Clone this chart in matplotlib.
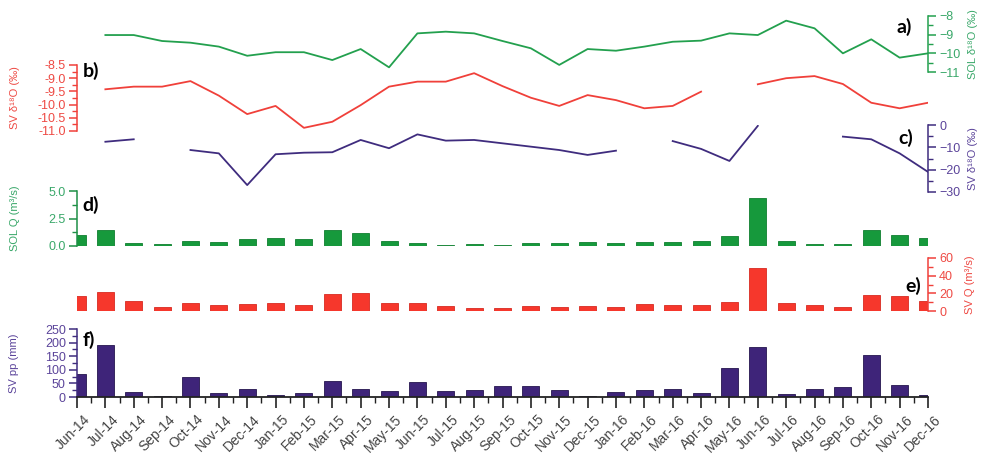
import numpy as np
import matplotlib
matplotlib.use("Agg")
import matplotlib.pyplot as plt
from matplotlib.ticker import MultipleLocator, FormatStrFormatter
from matplotlib.transforms import ScaledTranslation

plt.rcParams['font.family'] = ['Liberation Sans', 'DejaVu Sans']

nan = np.nan

months = ["Jun-14", "Jul-14", "Aug-14", "Sep-14", "Oct-14", "Nov-14", "Dec-14",
          "Jan-15", "Feb-15", "Mar-15", "Apr-15", "May-15", "Jun-15", "Jul-15",
          "Aug-15", "Sep-15", "Oct-15", "Nov-15", "Dec-15", "Jan-16", "Feb-16",
          "Mar-16", "Apr-16", "May-16", "Jun-16", "Jul-16", "Aug-16", "Sep-16",
          "Oct-16", "Nov-16", "Dec-16"]

# a) SOL d18O (permil)
sol_d18o = [nan, -9.02, -9.02, -9.34, -9.43, -9.64, -10.13, -9.94, -9.94, -10.36,
            -9.77, -10.75, -8.93, -8.84, -8.93, -9.34, -9.73, -10.62, -9.77, -9.86,
            -9.64, -9.38, -9.32, -8.93, -9.02, -8.25, -8.66, -10.0, -9.25, -10.23,
            -10.0]

# b) SV d18O (permil)
sv_d18o = [nan, -9.42, -9.32, -9.32, -9.11, -9.66, -10.36, -10.05, -10.88, -10.65,
           -10.02, -9.32, -9.13, -9.13, -8.81, -9.30, -9.74, -10.05, -9.64, -9.83,
           -10.14, -10.05, -9.51, nan, -9.23, -9.0, -8.92, -9.22, -9.93, -10.14,
           -9.93]

# c) SV d18O precipitation (permil)
sv_pp_d18o = [nan, -7.5, -6.4, nan, -11.2, -12.7, -26.9, -13.1, -12.4, -12.2,
              -6.7, -10.4, -4.2, -7.0, -6.7, -8.2, -9.7, -11.2, -13.4, -11.5,
              nan, -7.2, -10.7, -16.1, -0.4, nan, nan, -5.2, -6.4, -12.7, -21.0]

# d) SOL discharge (m3/s)
sol_q = [1.0, 1.5, 0.3, 0.18, 0.48, 0.39, 0.66, 0.75, 0.66, 1.47, 1.2, 0.42, 0.3,
         0.12, 0.15, 0.12, 0.3, 0.3, 0.39, 0.3, 0.39, 0.39, 0.42, 0.9, 4.4, 0.48,
         0.18, 0.18, 1.5, 1.0, 0.7]

# e) SV discharge (m3/s)
sv_q = [17, 22, 11.3, 5, 8.7, 6.8, 7.5, 9.4, 6.8, 19, 20, 9.4, 9.4, 5.7, 3.8, 3,
        5.3, 5, 5.3, 5, 7.5, 6.4, 6.8, 10.4, 48.6, 9.4, 6.4, 5, 18.5, 16.6, 11]

# f) SV precipitation (mm)
sv_pp = [86, 192, 18, 5, 72, 15, 29, 8, 15, 57, 29, 21, 54, 21, 27, 39, 39, 27, 5,
         17, 27, 31, 15, 105, 182, 12, 29, 37, 154, 45, 7]

x = np.arange(len(months))

GREEN_L = '#23a04e'
GREEN_B = '#16993c'
GREEN_T = '#3aa86a'
RED_L = '#f0403a'
RED_B = '#f6372c'
RED_T = '#ee4a44'
PURP_L = '#3f2c7e'
PURP_B = '#3e2479'
PURP_T = '#5b449a'

W, H = 984, 457
L, R = 77, 928

fig = plt.figure(figsize=(W / 100, H / 100), dpi=100)
fig.patch.set_facecolor('white')


def panel(top, bottom):
    ax = fig.add_axes([L / W, (H - bottom) / H, (R - L) / W, (bottom - top) / H])
    ax.patch.set_visible(False)
    ax.set_xlim(0, len(months) - 1)
    for s in ax.spines.values():
        s.set_visible(False)
    ax.set_xticks([])
    return ax


def style_y(ax, side, color, tcolor, major, minor, label, label_px, fmt=None):
    ax.spines[side].set_visible(True)
    ax.spines[side].set_color(color)
    ax.spines[side].set_linewidth(1.1)
    if side == 'right':
        ax.yaxis.tick_right()
        ax.yaxis.set_label_position('right')
    else:
        ax.yaxis.tick_left()
    ax.yaxis.set_major_locator(MultipleLocator(major))
    ax.yaxis.set_minor_locator(MultipleLocator(minor))
    ax.tick_params(axis='y', which='major', direction='out', length=6, width=1.1,
                   color=color, labelcolor=tcolor, labelsize=9, pad=2)
    ax.tick_params(axis='y', which='minor', direction='out', length=3.5, width=1.0,
                   color=color)
    if fmt:
        ax.yaxis.set_major_formatter(fmt)
    ax.set_ylabel(label, color=tcolor, fontsize=8)
    ax.yaxis.set_label_coords((label_px - L) / (R - L), 0.5)


# a) SOL d18O
ax_a = panel(16, 72)
ax_a.plot(x, sol_d18o, color=GREEN_L, lw=1.3)
ax_a.set_ylim(-11, -8)
style_y(ax_a, 'right', GREEN_L, GREEN_T, 1, 0.5, 'SOL δ¹⁸O (‰)', 968)

# b) SV d18O
ax_b = panel(65, 131)
ax_b.plot(x, sv_d18o, color=RED_L, lw=1.3)
ax_b.set_ylim(-11, -8.5)
style_y(ax_b, 'left', RED_L, RED_T, 0.5, 0.25, 'SV δ¹⁸O (‰)', 20,
        fmt=FormatStrFormatter('%.1f'))

# c) SV precipitation d18O
ax_c = panel(125, 192)
ax_c.plot(x, sv_pp_d18o, color=PURP_L, lw=1.3)
ax_c.set_ylim(-30, 0)
style_y(ax_c, 'right', PURP_L, PURP_T, 10, 5, 'SV δ¹⁸O (‰)', 968)

bw = 0.6

# d) SOL Q
ax_d = panel(191, 246)
ax_d.bar(x, sol_q, width=bw, color=GREEN_B, edgecolor='#0f7f30', lw=0.6)
ax_d.set_ylim(0, 5)
style_y(ax_d, 'left', '#1e8f46', GREEN_T, 2.5, 1.25, 'SOL Q (m³/s)', 20,
        fmt=FormatStrFormatter('%.1f'))

# e) SV Q
ax_e = panel(258, 311)
ax_e.bar(x, sv_q, width=bw, color=RED_B, edgecolor='#d82a20', lw=0.6)
ax_e.set_ylim(0, 60)
style_y(ax_e, 'right', RED_L, RED_T, 20, 10, 'SV Q (m³/s)', 965)

# f) SV pp
ax_f = panel(329, 397)
ax_f.bar(x, sv_pp, width=bw, color=PURP_B, edgecolor='#25154f', lw=0.6)
ax_f.set_ylim(0, 250)
style_y(ax_f, 'left', PURP_L, PURP_T, 50, 25, 'SV pp (mm)', 19)
ax_f.spines['bottom'].set_visible(True)
ax_f.spines['bottom'].set_color('#222222')
ax_f.spines['bottom'].set_linewidth(1.3)
ax_f.set_xticks(x)
ax_f.set_xticks(x[:-1] + 0.5, minor=True)
ax_f.set_xticklabels(months, rotation=45, ha='right', rotation_mode='anchor',
                     fontsize=10, color='#444444')
ax_f.tick_params(axis='x', which='major', direction='out', length=8, width=1.2,
                 color='#222222', pad=3)
ax_f.tick_params(axis='x', which='minor', direction='out', length=4, width=1.0,
                 color='#222222')
shift = ScaledTranslation(6 / 100, 0, fig.dpi_scale_trans)
for lab in ax_f.get_xticklabels():
    lab.set_transform(lab.get_transform() + shift)

# panel letters
letters = [("a)", 904, 27), ("b)", 91, 71), ("c)", 906, 138),
           ("d)", 91, 205), ("e)", 913, 286), ("f)", 89, 340)]
for txt, px, py in letters:
    fig.text(px / W, 1 - py / H, txt, fontsize=14, fontweight='bold',
             family=['Lato', 'DejaVu Sans'], ha='center', va='center', color='black')

fig.savefig("out.png", dpi=100)
